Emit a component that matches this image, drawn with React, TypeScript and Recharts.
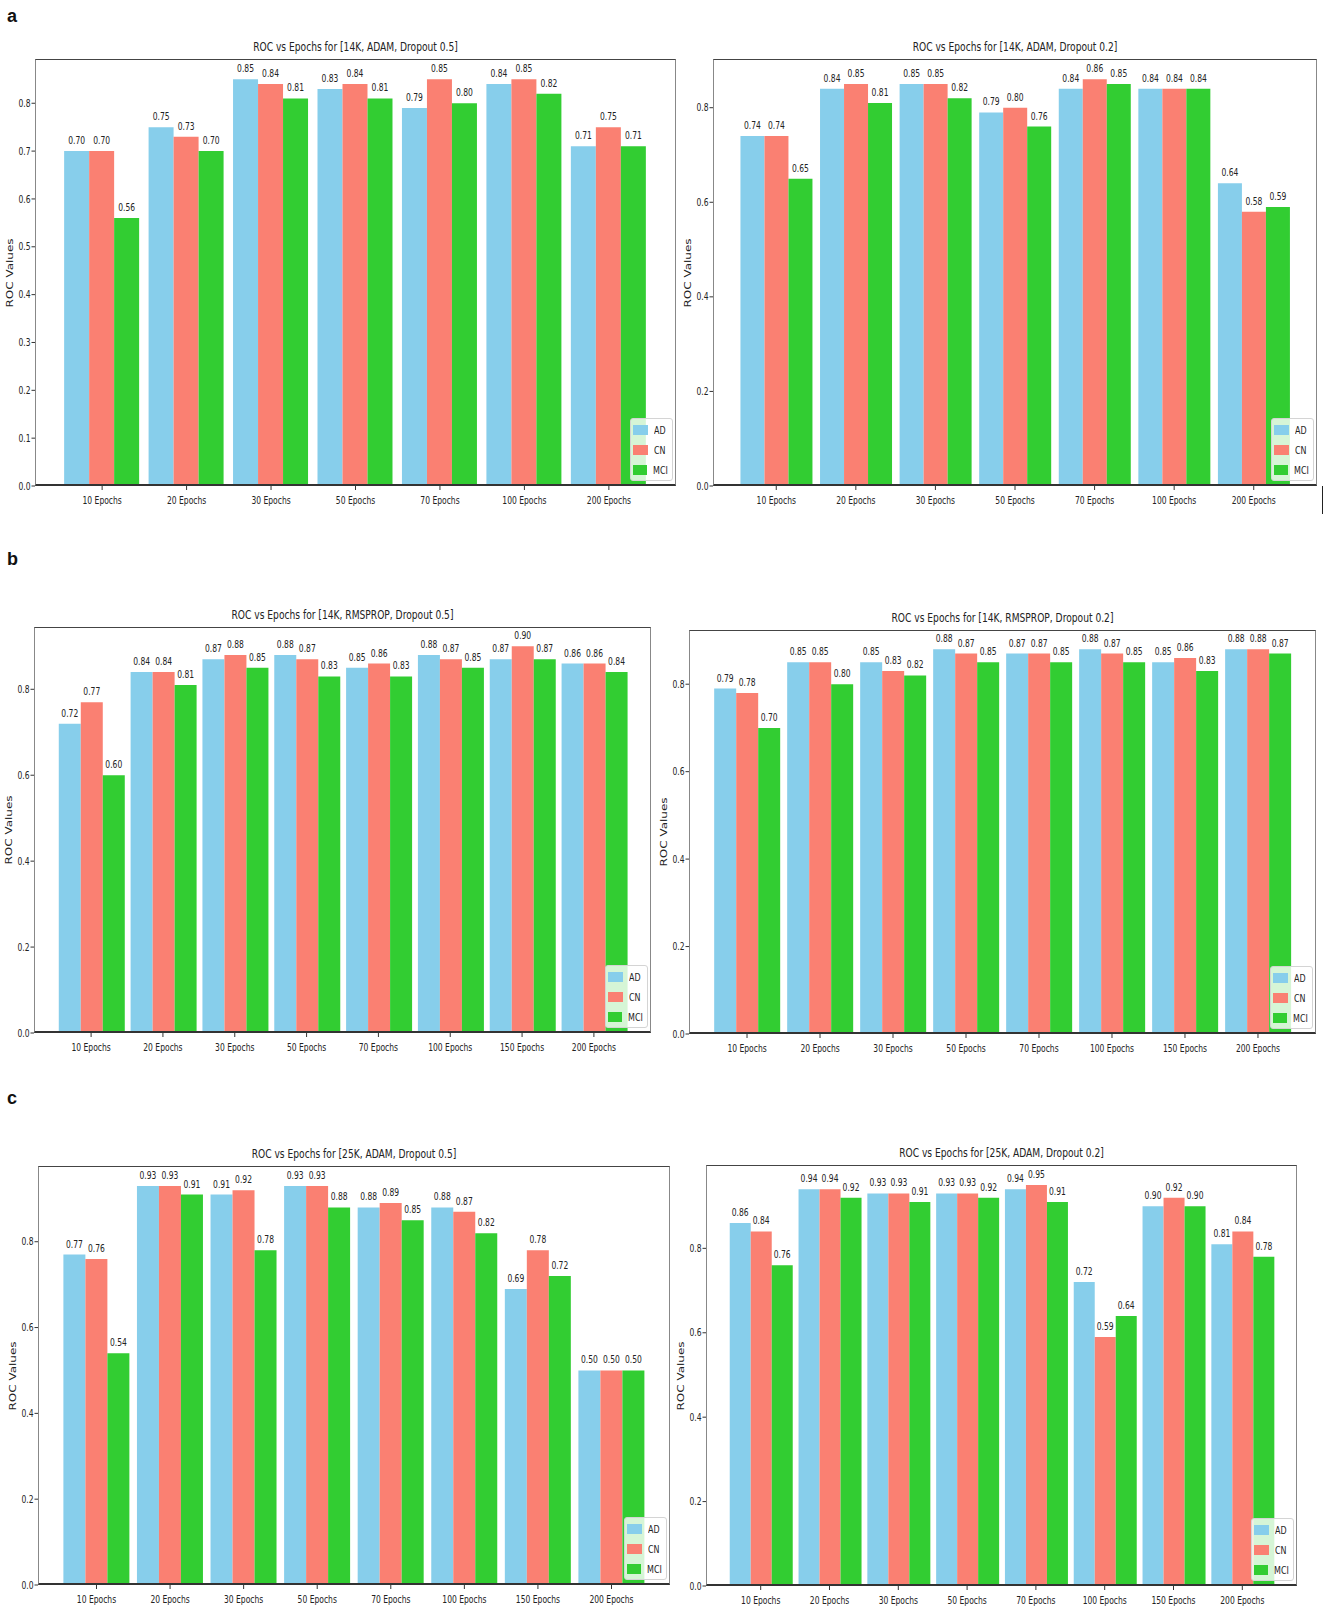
import React from "react";
import { Bar, BarChart, LabelList, XAxis, YAxis } from "recharts";

const AD_COLOR = "#87CEEB";
const CN_COLOR = "#FA8072";
const MCI_COLOR = "#32CD32";
const FONT = '"DejaVu Sans", Verdana, sans-serif';
// the source figure is squeezed sideways, so text is narrowed to match
const SQUISH = 0.76;

const epochs7 = ["10 Epochs", "20 Epochs", "30 Epochs", "50 Epochs", "70 Epochs", "100 Epochs", "200 Epochs"];
const epochs8 = ["10 Epochs", "20 Epochs", "30 Epochs", "50 Epochs", "70 Epochs", "100 Epochs", "150 Epochs", "200 Epochs"];

const ticksFine = [0, 0.1, 0.2, 0.3, 0.4, 0.5, 0.6, 0.7, 0.8];
const ticksCoarse = [0, 0.2, 0.4, 0.6, 0.8];

// a: 14K, ADAM
const adamD5AD = [0.7, 0.75, 0.85, 0.83, 0.79, 0.84, 0.71];
const adamD5CN = [0.7, 0.73, 0.84, 0.84, 0.85, 0.85, 0.75];
const adamD5MCI = [0.56, 0.7, 0.81, 0.81, 0.8, 0.82, 0.71];

const adamD2AD = [0.74, 0.84, 0.85, 0.79, 0.84, 0.84, 0.64];
const adamD2CN = [0.74, 0.85, 0.85, 0.8, 0.86, 0.84, 0.58];
const adamD2MCI = [0.65, 0.81, 0.82, 0.76, 0.85, 0.84, 0.59];

// b: 14K, RMSPROP
const rmsD5AD = [0.72, 0.84, 0.87, 0.88, 0.85, 0.88, 0.87, 0.86];
const rmsD5CN = [0.77, 0.84, 0.88, 0.87, 0.86, 0.87, 0.9, 0.86];
const rmsD5MCI = [0.6, 0.81, 0.85, 0.83, 0.83, 0.85, 0.87, 0.84];

const rmsD2AD = [0.79, 0.85, 0.85, 0.88, 0.87, 0.88, 0.85, 0.88];
const rmsD2CN = [0.78, 0.85, 0.83, 0.87, 0.87, 0.87, 0.86, 0.88];
const rmsD2MCI = [0.7, 0.8, 0.82, 0.85, 0.85, 0.85, 0.83, 0.87];

// c: 25K, ADAM
const big5AD = [0.77, 0.93, 0.91, 0.93, 0.88, 0.88, 0.69, 0.5];
const big5CN = [0.76, 0.93, 0.92, 0.93, 0.89, 0.87, 0.78, 0.5];
const big5MCI = [0.54, 0.91, 0.78, 0.88, 0.85, 0.82, 0.72, 0.5];

const big2AD = [0.86, 0.94, 0.93, 0.93, 0.94, 0.72, 0.9, 0.81];
const big2CN = [0.84, 0.94, 0.93, 0.93, 0.95, 0.59, 0.92, 0.84];
const big2MCI = [0.76, 0.92, 0.91, 0.92, 0.91, 0.64, 0.9, 0.78];

function XTick(props: any) {
	const { x, y, payload } = props;
	return (
		<g transform={`translate(${x},${y}) scale(${SQUISH},1)`}>
			<text x={0} y={0} dy={12} textAnchor="middle" fontSize={10} fontFamily={FONT} fill="#222">
				{payload.value}
			</text>
		</g>
	);
}

function YTick(props: any) {
	const { x, y, payload } = props;
	return (
		<g transform={`translate(${x},${y}) scale(${SQUISH},1)`}>
			<text x={0} y={0} dy={3.6} textAnchor="end" fontSize={10} fontFamily={FONT} fill="#222">
				{Number(payload.value).toFixed(1)}
			</text>
		</g>
	);
}

function ValueLabel(props: any) {
	const { x, y, width, value } = props;
	const cx = Number(x) + Number(width) / 2;
	return (
		<g transform={`translate(${cx},${Number(y) - 7}) scale(${SQUISH},1)`}>
			<text x={0} y={0} textAnchor="middle" fontSize={10} fontFamily={FONT} fill="#222">
				{Number(value).toFixed(2)}
			</text>
		</g>
	);
}

function LegendBox({ r, b }: { r: number; b: number }) {
	const rows = [
		{ name: "AD", color: AD_COLOR },
		{ name: "CN", color: CN_COLOR },
		{ name: "MCI", color: MCI_COLOR },
	];
	return (
		<div
			style={{
				position: "absolute",
				left: r - 3 - 43,
				top: b - 5 - 63,
				width: 43,
				height: 63,
				boxSizing: "border-box",
				border: "1px solid #d4d4d4",
				borderRadius: 3,
				background: "rgba(255,255,255,0.8)",
				paddingTop: 1,
			}}
		>
			{rows.map((row) => (
				<div key={row.name} style={{ display: "flex", alignItems: "center", height: 20 }}>
					<div style={{ width: 15, height: 10, marginLeft: 2, background: row.color }} />
					<span
						style={{
							marginLeft: 6,
							fontSize: 10.5,
							fontFamily: FONT,
							color: "#222",
							display: "inline-block",
							transform: `scaleX(${SQUISH})`,
							transformOrigin: "left center",
							whiteSpace: "nowrap",
						}}
					>
						{row.name}
					</span>
				</div>
			))}
		</div>
	);
}

interface PanelProps {
	title: string;
	categories: string[];
	ad: number[];
	cn: number[];
	mci: number[];
	ticks: number[];
	l: number;
	t: number;
	r: number;
	b: number;
}

function Panel({ title, categories, ad, cn, mci, ticks, l, t, r, b }: PanelProps) {
	const data = categories.map((epoch, i) => ({ epoch, AD: ad[i], CN: cn[i], MCI: mci[i] }));
	const yMax = Math.max(...ad, ...cn, ...mci) * 1.05;
	const w = r - l;
	const h = b - t;
	const n = categories.length;
	// matplotlib-like x margins: 5% around bars of width 0.3 x 3
	const unit = w / (n - 1 + 1.59);
	const pad = 0.295 * unit;
	const axisW = 40;
	const topPad = 30;
	const bottomPad = 30;
	return (
		<>
			<div
				style={{
					position: "absolute",
					left: l,
					top: t - 19,
					width: w,
					lineHeight: "14px",
					textAlign: "center",
					fontSize: 12,
					fontFamily: FONT,
					color: "#222",
					whiteSpace: "nowrap",
					transform: `scaleX(${SQUISH})`,
				}}
			>
				{title}
			</div>
			<div
				style={{
					position: "absolute",
					left: l - 25,
					top: (t + b) / 2,
					width: 120,
					height: 14,
					lineHeight: "14px",
					textAlign: "center",
					fontSize: 12,
					fontFamily: FONT,
					color: "#222",
					transform: `translate(-50%,-50%) rotate(-90deg) scaleY(${SQUISH})`,
				}}
			>
				ROC Values
			</div>
			<div style={{ position: "absolute", left: l - axisW, top: t - topPad }}>
				<BarChart
					width={w + axisW + 2}
					height={h + topPad + bottomPad}
					data={data}
					margin={{ top: topPad, right: 2, bottom: 0, left: 0 }}
					barCategoryGap="5%"
					barGap={0}
				>
					<XAxis
						dataKey="epoch"
						height={bottomPad}
						padding={{ left: pad, right: pad }}
						axisLine={false}
						tickSize={4}
						tickMargin={2}
						tickLine={{ stroke: "#333" }}
						interval={0}
						tick={(p: any) => <XTick {...p} />}
					/>
					<YAxis
						width={axisW}
						type="number"
						domain={[0, yMax]}
						ticks={ticks}
						axisLine={false}
						tickSize={3.5}
						tickMargin={1}
						tickLine={{ stroke: "#333" }}
						tick={(p: any) => <YTick {...p} />}
					/>
					<Bar dataKey="AD" fill={AD_COLOR} isAnimationActive={false}>
						<LabelList dataKey="AD" content={ValueLabel} />
					</Bar>
					<Bar dataKey="CN" fill={CN_COLOR} isAnimationActive={false}>
						<LabelList dataKey="CN" content={ValueLabel} />
					</Bar>
					<Bar dataKey="MCI" fill={MCI_COLOR} isAnimationActive={false}>
						<LabelList dataKey="MCI" content={ValueLabel} />
					</Bar>
				</BarChart>
			</div>
			<div
				style={{
					position: "absolute",
					left: l,
					top: t,
					width: w,
					height: h,
					boxSizing: "border-box",
					borderTop: "1.5px solid #444",
					borderBottom: "2px solid #333",
					borderLeft: "1px solid #888",
					borderRight: "1px solid #888",
					pointerEvents: "none",
				}}
			/>
			<LegendBox r={r} b={b} />
		</>
	);
}

function PanelLetter({ text, top }: { text: string; top: number }) {
	return (
		<div
			style={{
				position: "absolute",
				left: 7,
				top,
				lineHeight: "18px",
				fontSize: 18,
				fontWeight: 700,
				fontFamily: '"Liberation Sans", Arial, sans-serif',
				color: "#111",
			}}
		>
			{text}
		</div>
	);
}

export default function App() {
	return (
		<div style={{ position: "absolute", left: 0, top: 0, width: 1325, height: 1612, background: "#fff", overflow: "hidden" }}>
			<PanelLetter text="a" top={7} />
			<PanelLetter text="b" top={550} />
			<PanelLetter text="c" top={1089} />

			<Panel title="ROC vs Epochs for [14K, ADAM, Dropout 0.5]" categories={epochs7} ad={adamD5AD} cn={adamD5CN} mci={adamD5MCI} ticks={ticksFine} l={35} t={59} r={676} b={486} />
			<Panel title="ROC vs Epochs for [14K, ADAM, Dropout 0.2]" categories={epochs7} ad={adamD2AD} cn={adamD2CN} mci={adamD2MCI} ticks={ticksCoarse} l={713} t={59} r={1317} b={486} />
			<div style={{ position: "absolute", left: 1322, top: 486, width: 1, height: 28, background: "#222" }} />

			<Panel title="ROC vs Epochs for [14K, RMSPROP, Dropout 0.5]" categories={epochs8} ad={rmsD5AD} cn={rmsD5CN} mci={rmsD5MCI} ticks={ticksCoarse} l={34} t={627} r={651} b={1033} />
			<Panel title="ROC vs Epochs for [14K, RMSPROP, Dropout 0.2]" categories={epochs8} ad={rmsD2AD} cn={rmsD2CN} mci={rmsD2MCI} ticks={ticksCoarse} l={689} t={630} r={1316} b={1034} />

			<Panel title="ROC vs Epochs for [25K, ADAM, Dropout 0.5]" categories={epochs8} ad={big5AD} cn={big5CN} mci={big5MCI} ticks={ticksCoarse} l={38} t={1166} r={670} b={1585} />
			<Panel title="ROC vs Epochs for [25K, ADAM, Dropout 0.2]" categories={epochs8} ad={big2AD} cn={big2CN} mci={big2MCI} ticks={ticksCoarse} l={706} t={1165} r={1297} b={1586} />
		</div>
	);
}
